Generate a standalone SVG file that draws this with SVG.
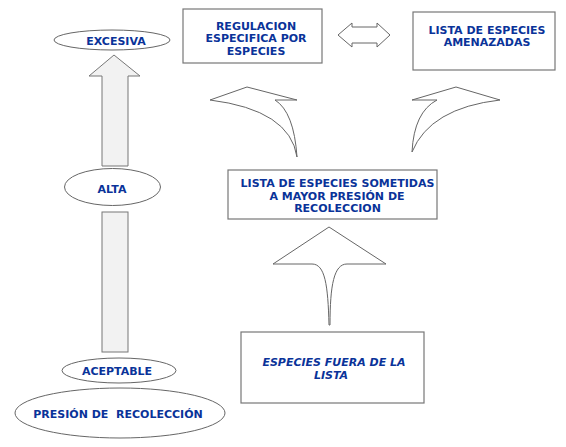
<svg xmlns="http://www.w3.org/2000/svg" width="566" height="447" viewBox="0 0 566 447">
<style>
.box{fill:#fff;stroke:#777;stroke-width:1.2}
.ell{fill:#fff;stroke:#666;stroke-width:1}
.arr{fill:#f2f2f2;stroke:#777;stroke-width:1}
.carr{fill:#fff;stroke:#666;stroke-width:1}
.t{font-family:"DejaVu Sans",Verdana,sans-serif;font-weight:bold;font-size:11px;fill:#0a3399;text-anchor:middle}
.it{font-style:italic}
</style>
<rect width="566" height="447" fill="#fff"/>
<g id="connectors">
<path class="arr" d="M114,55 L140,76 L128,76 L128,166 L102,166 L102,76 L89,76 Z"/>
<rect class="arr" x="102" y="212" width="26" height="140"/>
<rect class="arr" x="102" y="390" width="26" height="13"/>
<path class="carr" d="M338,35 L352,23 L352,27 L377,27 L377,23 L390,35 L377,47 L377,43 L352,43 L352,47 Z"/>
<path class="carr" d="M247,87 L297,100 L275,100 Q294,112 297,157 Q290,110 210,100 Z"/>
<path class="carr" d="M456,87 L500,100 Q430,108 412,152 Q414,112 437,100 L412,100 Z"/>
<path class="carr" d="M329,227 L386,264 L347,264 C334,264 330,285 330,325 L329,325 C328,285 325,264 312,264 L273,264 Z"/>
</g>
<g id="excesiva"><ellipse class="ell" cx="112" cy="40" rx="58" ry="10"/><text class="t" x="116" y="44.5">EXCESIVA</text></g>
<g id="alta"><ellipse class="ell" cx="112.5" cy="187" rx="48" ry="18.5"/><text class="t" x="112" y="193">ALTA</text></g>
<g id="aceptable"><ellipse class="ell" cx="119" cy="370.5" rx="57" ry="12.5"/><text class="t" x="117" y="374.5">ACEPTABLE</text></g>
<g id="presion"><ellipse class="ell" cx="120" cy="413" rx="105" ry="25"/><text class="t" x="118" y="417.5" xml:space="preserve">PRESIÓN DE  RECOLECCIÓN</text></g>
<g id="regulacion"><rect class="box" x="183" y="9" width="139" height="54"/>
<text class="t"><tspan x="256" y="29.5">REGULACION</tspan><tspan x="256" y="42">ESPECIFICA POR</tspan><tspan x="256" y="54.5">ESPECIES</tspan></text></g>
<g id="amenazadas"><rect class="box" x="413" y="12" width="142" height="58"/>
<text class="t"><tspan x="487" y="33.5">LISTA DE ESPECIES</tspan><tspan x="487" y="46">AMENAZADAS</tspan></text></g>
<g id="sometidas"><rect class="box" x="228" y="170" width="209" height="49"/>
<text class="t"><tspan x="337.5" y="187">LISTA DE ESPECIES SOMETIDAS</tspan><tspan x="337" y="199.5">A MAYOR PRESIÓN DE</tspan><tspan x="337.5" y="212">RECOLECCION</tspan></text></g>
<g id="fuera"><rect class="box" x="241" y="332" width="183" height="71"/>
<text class="t it"><tspan x="334" y="366">ESPECIES FUERA DE LA</tspan><tspan x="331" y="379">LISTA</tspan></text></g>
</svg>
